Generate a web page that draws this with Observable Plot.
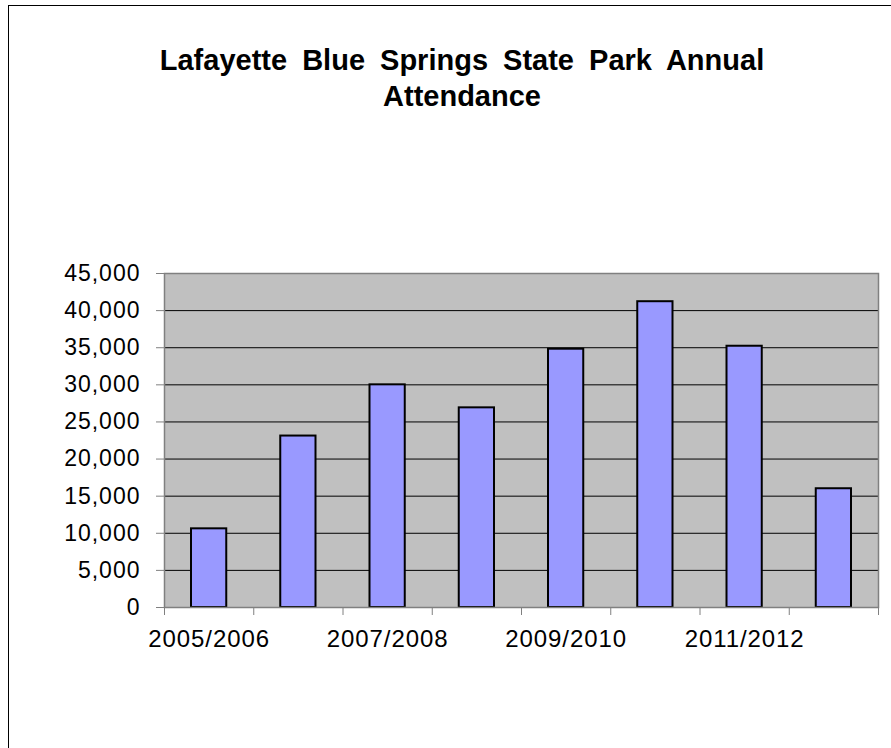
<!DOCTYPE html>
<html>
<head>
<meta charset="utf-8">
<script src="https://cdn.jsdelivr.net/npm/d3@7"></script>
<script src="https://cdn.jsdelivr.net/npm/@observablehq/plot@0.6"></script>
<style>
  html, body { margin: 0; padding: 0; background: #fff; }
  #wrap { position: relative; width: 891px; height: 748px; overflow: hidden; font-family: "Liberation Sans", Arial, sans-serif; }
  #border { position: absolute; left: 8px; top: 5px; right: -10px; bottom: -10px; border-left: 1px solid #000; border-top: 1.5px solid #000; }
  #title { position: absolute; left: 0; width: 924px; top: 42px; text-align: center; font-weight: bold; font-size: 29px; line-height: 36px; word-spacing: 7px; color: #000; }
  #chart { position: absolute; left: 0; top: 250px; }
  #chart svg { overflow: visible; }
  g[aria-label="y-axis tick label"] text { font-size: 23px; letter-spacing: 1px; }
  g[aria-label="x-axis tick label"] text { font-size: 24px; letter-spacing: 0.9px; }
</style>
</head>
<body>
<div id="wrap">
  <div id="border"></div>
  <div id="title">Lafayette Blue Springs State Park Annual<br>Attendance</div>
  <div id="chart"></div>
</div>
<script>
const seasons = ["2005/2006", "2006/2007", "2007/2008", "2008/2009", "2009/2010", "2010/2011", "2011/2012", "2012/2013"];
const attendance = [10600, 23100, 30000, 26900, 34800, 41200, 35200, 16000];
const yTicks = [0, 5000, 10000, 15000, 20000, 25000, 30000, 35000, 40000, 45000];
const gridTicks = [5000, 10000, 15000, 20000, 25000, 30000, 35000, 40000];
const labelEvery = 2;

const data = seasons.map((s, i) => ({season: s, index: i, value: attendance[i]}));
const boundaries = d3.range(0, seasons.length + 1);
const labelPositions = seasons.map((s, i) => i).filter(i => i % labelEvery === 0).map(i => i + 0.5);

const plot = Plot.plot({
  width: 891,
  height: 420,
  marginLeft: 164,
  marginRight: 13,
  marginTop: 23,
  marginBottom: 63,
  style: { fontFamily: "'Liberation Sans', Arial, sans-serif", fontSize: "23px", color: "#000", background: "transparent" },
  x: { domain: [0, seasons.length], label: null },
  y: { domain: [0, 45000], label: null },
  marks: [
    Plot.frame({ fill: "#C0C0C0", stroke: null }),
    Plot.gridY(gridTicks, { stroke: "#000", strokeOpacity: 1, strokeWidth: 1 }),
    Plot.rectY(data, {
      x1: d => d.index,
      x2: d => d.index + 1,
      y: "value",
      insetLeft: 27,
      insetRight: 27,
      fill: "#9999FF",
      stroke: "#000",
      strokeWidth: 2
    }),
    Plot.frame({ stroke: "#808080", strokeWidth: 1.5 }),
    Plot.axisY({ ticks: yTicks, tickSize: 8, tickPadding: 16, tickFormat: d3.format(","), stroke: "#808080", fill: "#000", label: null }),
    Plot.axisX({ ticks: boundaries, tickSize: 8, tickFormat: () => "", stroke: "#808080", label: null }),
    Plot.axisX({ ticks: labelPositions, tickSize: 0, tickPadding: 22, tickFormat: v => seasons[Math.floor(v)], fill: "#000", label: null })
  ]
});
document.getElementById("chart").appendChild(plot);
</script>
</body>
</html>
